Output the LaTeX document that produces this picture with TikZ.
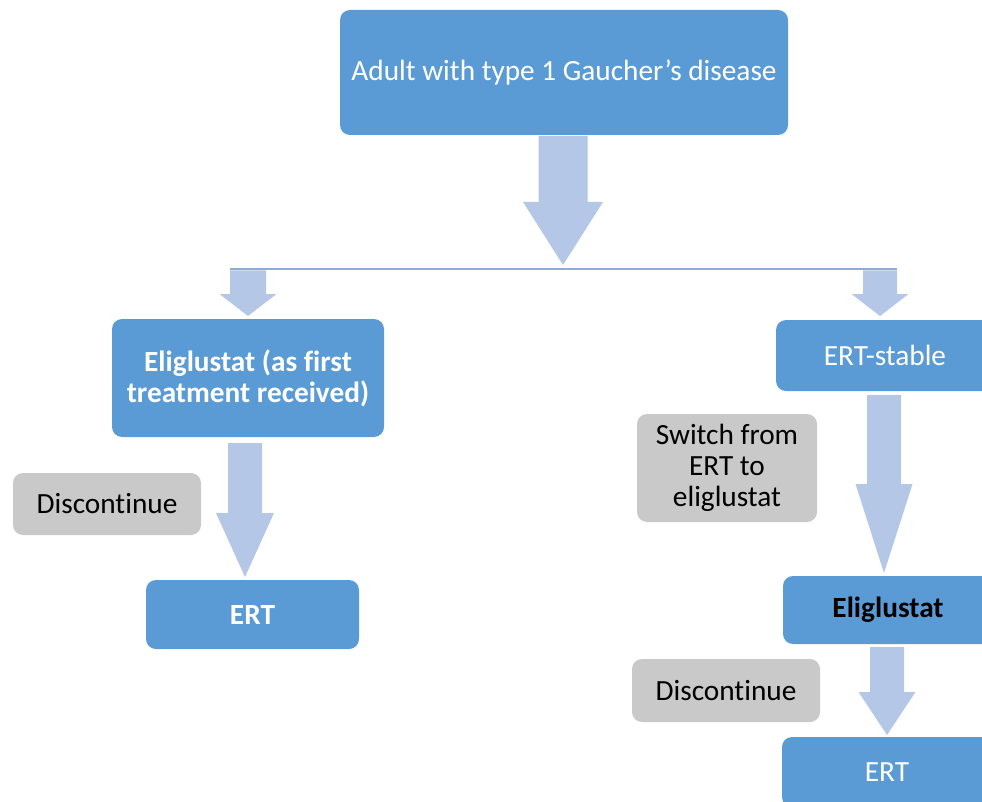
\documentclass[tikz,border=0pt]{standalone}
\usepackage{fontspec}
\setmainfont{Carlito}[Ligatures={NoCommon,NoContextual}]
\usetikzlibrary{positioning}

\definecolor{boxblue}{HTML}{5B9BD5}
\definecolor{arrowblue}{HTML}{B4C7E7}
\definecolor{linkblue}{HTML}{8FAADC}
\definecolor{notegrey}{HTML}{C9C9C9}

% Block arrow pointing down: x-centre, shaft top, head base, tip, half shaft width, half head width
\newcommand{\downblock}[6]{%
  \fill[arrowblue] (#1-#5,#2) -- (#1+#5,#2) -- (#1+#5,#3) -- (#1+#6,#3)
    -- (#1,#4) -- (#1-#6,#3) -- (#1-#5,#3) -- cycle;}

\newcommand{\boxfont}{\fontsize{29.3}{31}\selectfont}
% keeps letter pairs such as t-i and f-i apart
\newcommand{\nolig}{\kern0pt{}}

\tikzset{
  txt/.style={font=\boxfont, align=center, inner sep=0pt},
  bluebox/.style={txt, fill=boxblue, text=white, rounded corners=10pt},
  greybox/.style={txt, fill=notegrey, text=black, rounded corners=10pt},
  boldtxt/.style={font=\boxfont\bfseries},
}

\begin{document}
\begin{tikzpicture}[x=1pt,y=-1pt]
\useasboundingbox (0,0) rectangle (982,802);
\clip (0,0) rectangle (982,802);

% boxes
\node[bluebox, minimum width=448pt, minimum height=125pt] (adult) at (564,72.5)
  {Adult with type 1 Gaucher’s disease};
\node[bluebox, boldtxt, minimum width=272pt, minimum height=118pt] (eliFirst) at (248,378)
  {Eliglustat (as f\nolig irst\\treatment received)};
\node[greybox, minimum width=188pt, minimum height=62pt] (discL) at (107,504) {Discont\nolig inue};
\node[bluebox, boldtxt, minimum width=213pt, minimum height=69pt] (ertL) at (252.5,614.5) {ERT};

\node[bluebox, minimum width=218pt, minimum height=71pt] (stable) at (885,355.5) {ERT-stable};
\node[greybox, minimum width=180pt, minimum height=108pt] (switch) at (727,468)
  {Switch from\\ERT to\\eliglustat};
\node[bluebox, boldtxt, text=black, minimum width=210pt, minimum height=68pt] (eliR) at (888,610) {Eliglustat};
\node[greybox, minimum width=188pt, minimum height=63pt] (discR) at (726,690.5) {Discont\nolig inue};
\node[bluebox, minimum width=210pt, minimum height=70pt] (ertR) at (887,772) {ERT};

% branch line
\coordinate (branchL) at (230,269.5);
\coordinate (branchR) at (897,269.5);
\draw[linkblue, line width=2pt] (branchL) -- (branchR);

% block arrows
\downblock{563}{136}{202}{265}{24.5}{40}
\downblock{248}{270.5}{294}{316}{18}{28.5}
\downblock{880}{270.5}{294}{316}{17}{28.5}
\downblock{245}{443}{513}{577}{17}{29}
\downblock{884}{395}{484}{573}{17}{28.5}
\downblock{887}{647}{692}{735}{17}{28.5}
\end{tikzpicture}
\end{document}
